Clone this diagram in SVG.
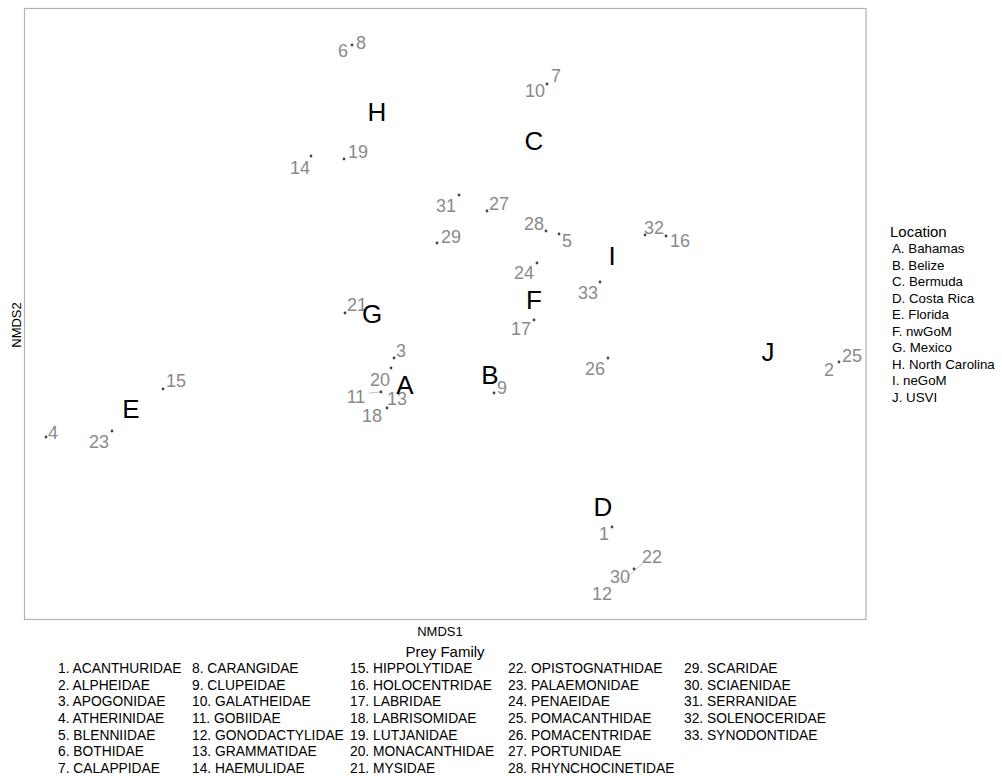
<svg xmlns="http://www.w3.org/2000/svg" width="1002" height="776" viewBox="0 0 1002 776">
<style>
text{font-family:"Liberation Sans",Arial,sans-serif}
.n{font-size:18px;fill:#8a8a8a;text-anchor:middle}
.l{font-size:26px;fill:#000;text-anchor:middle}
.d{fill:#444}
.lg{font-size:13.3px;fill:#000}
.pf{font-size:13.8px;fill:#000}
.tt{font-size:15px;fill:#000}
.ax{font-size:13px;fill:#000;text-anchor:middle}
</style>
<rect x="0" y="0" width="1002" height="776" fill="#fff"/>
<rect id="panel" x="24.5" y="8.5" width="841.5" height="611" fill="none" stroke="#b3b3b3" stroke-width="1.2"/>
<g id="connectors" stroke="#b0b0b0" stroke-width="0.8" fill="none">
<line x1="369" y1="393" x2="381" y2="392"/>
<line x1="621" y1="583" x2="645" y2="561"/>
</g>
<g id="points">
<circle class="d" cx="352" cy="45" r="1.4"/>
<circle class="d" cx="547" cy="84" r="1.4"/>
<circle class="d" cx="311" cy="156" r="1.4"/>
<circle class="d" cx="344" cy="159" r="1.4"/>
<circle class="d" cx="459" cy="195" r="1.4"/>
<circle class="d" cx="487" cy="211" r="1.4"/>
<circle class="d" cx="546" cy="231" r="1.4"/>
<circle class="d" cx="559" cy="234" r="1.4"/>
<circle class="d" cx="437" cy="243" r="1.4"/>
<circle class="d" cx="645" cy="235" r="1.4"/>
<circle class="d" cx="666" cy="236" r="1.4"/>
<circle class="d" cx="537" cy="263" r="1.4"/>
<circle class="d" cx="600" cy="282" r="1.4"/>
<circle class="d" cx="534" cy="320" r="1.4"/>
<circle class="d" cx="345" cy="313" r="1.4"/>
<circle class="d" cx="394" cy="358" r="1.4"/>
<circle class="d" cx="391" cy="368" r="1.4"/>
<circle class="d" cx="381" cy="392" r="1.4"/>
<circle class="d" cx="387" cy="408" r="1.4"/>
<circle class="d" cx="494" cy="393" r="1.4"/>
<circle class="d" cx="608" cy="358" r="1.4"/>
<circle class="d" cx="839" cy="362" r="1.4"/>
<circle class="d" cx="163" cy="389" r="1.4"/>
<circle class="d" cx="46" cy="437" r="1.4"/>
<circle class="d" cx="112" cy="431" r="1.4"/>
<circle class="d" cx="612" cy="527" r="1.4"/>
<circle class="d" cx="634" cy="569" r="1.4"/>
</g>
<g id="point-labels">
<text class="n" x="343" y="57">6</text>
<text class="n" x="361" y="49">8</text>
<text class="n" x="535" y="97">10</text>
<text class="n" x="556" y="82">7</text>
<text class="n" x="300" y="174">14</text>
<text class="n" x="358" y="158">19</text>
<text class="n" x="446" y="212">31</text>
<text class="n" x="499" y="210">27</text>
<text class="n" x="534" y="230">28</text>
<text class="n" x="567" y="247">5</text>
<text class="n" x="451" y="243">29</text>
<text class="n" x="654" y="234">32</text>
<text class="n" x="680" y="247">16</text>
<text class="n" x="524" y="279">24</text>
<text class="n" x="588" y="299">33</text>
<text class="n" x="521" y="335">17</text>
<text class="n" x="357" y="311">21</text>
<text class="n" x="401" y="357">3</text>
<text class="n" x="380" y="386">20</text>
<text class="n" x="356" y="403">11</text>
<text class="n" x="397" y="405">13</text>
<text class="n" x="372" y="422">18</text>
<text class="n" x="502" y="394">9</text>
<text class="n" x="595" y="375">26</text>
<text class="n" x="829" y="376">2</text>
<text class="n" x="852" y="362">25</text>
<text class="n" x="176" y="387">15</text>
<text class="n" x="53" y="439">4</text>
<text class="n" x="99" y="448">23</text>
<text class="n" x="604" y="540">1</text>
<text class="n" x="652" y="563">22</text>
<text class="n" x="620" y="583">30</text>
<text class="n" x="602" y="600">12</text>
</g>
<g id="location-labels">
<text class="l" x="377" y="121">H</text>
<text class="l" x="534" y="150">C</text>
<text class="l" x="612" y="265">I</text>
<text class="l" x="534" y="309">F</text>
<text class="l" x="372" y="323">G</text>
<text class="l" x="405" y="394">A</text>
<text class="l" x="490" y="384">B</text>
<text class="l" x="768" y="361">J</text>
<text class="l" x="131" y="418">E</text>
<text class="l" x="603" y="516">D</text>
</g>
<g id="axes">
<text class="ax" x="440" y="636">NMDS1</text>
<text class="ax" transform="translate(21,325) rotate(-90)">NMDS2</text>
</g>
<g id="location-legend">
<text class="tt" x="890" y="237">Location</text>
<text class="lg" x="892" y="253">A. Bahamas</text>
<text class="lg" x="892" y="269.5">B. Belize</text>
<text class="lg" x="892" y="286">C. Bermuda</text>
<text class="lg" x="892" y="302.5">D. Costa Rica</text>
<text class="lg" x="892" y="319">E. Florida</text>
<text class="lg" x="892" y="335.5">F. nwGoM</text>
<text class="lg" x="892" y="352">G. Mexico</text>
<text class="lg" x="892" y="368.5">H. North Carolina</text>
<text class="lg" x="892" y="385">I. neGoM</text>
<text class="lg" x="892" y="401.5">J. USVI</text>
</g>
<g id="prey-legend">
<text class="tt" x="445" y="657" text-anchor="middle">Prey Family</text>
<text class="pf" x="58" y="673">1. ACANTHURIDAE</text>
<text class="pf" x="58" y="689.7">2. ALPHEIDAE</text>
<text class="pf" x="58" y="706.3">3. APOGONIDAE</text>
<text class="pf" x="58" y="723">4. ATHERINIDAE</text>
<text class="pf" x="58" y="739.7">5. BLENNIIDAE</text>
<text class="pf" x="58" y="756.3">6. BOTHIDAE</text>
<text class="pf" x="58" y="773">7. CALAPPIDAE</text>
<text class="pf" x="192" y="673">8. CARANGIDAE</text>
<text class="pf" x="192" y="689.7">9. CLUPEIDAE</text>
<text class="pf" x="192" y="706.3">10. GALATHEIDAE</text>
<text class="pf" x="192" y="723">11. GOBIIDAE</text>
<text class="pf" x="192" y="739.7">12. GONODACTYLIDAE</text>
<text class="pf" x="192" y="756.3">13. GRAMMATIDAE</text>
<text class="pf" x="192" y="773">14. HAEMULIDAE</text>
<text class="pf" x="350" y="673">15. HIPPOLYTIDAE</text>
<text class="pf" x="350" y="689.7">16. HOLOCENTRIDAE</text>
<text class="pf" x="350" y="706.3">17. LABRIDAE</text>
<text class="pf" x="350" y="723">18. LABRISOMIDAE</text>
<text class="pf" x="350" y="739.7">19. LUTJANIDAE</text>
<text class="pf" x="350" y="756.3">20. MONACANTHIDAE</text>
<text class="pf" x="350" y="773">21. MYSIDAE</text>
<text class="pf" x="508" y="673">22. OPISTOGNATHIDAE</text>
<text class="pf" x="508" y="689.7">23. PALAEMONIDAE</text>
<text class="pf" x="508" y="706.3">24. PENAEIDAE</text>
<text class="pf" x="508" y="723">25. POMACANTHIDAE</text>
<text class="pf" x="508" y="739.7">26. POMACENTRIDAE</text>
<text class="pf" x="508" y="756.3">27. PORTUNIDAE</text>
<text class="pf" x="508" y="773">28. RHYNCHOCINETIDAE</text>
<text class="pf" x="684" y="673">29. SCARIDAE</text>
<text class="pf" x="684" y="689.7">30. SCIAENIDAE</text>
<text class="pf" x="684" y="706.3">31. SERRANIDAE</text>
<text class="pf" x="684" y="723">32. SOLENOCERIDAE</text>
<text class="pf" x="684" y="739.7">33. SYNODONTIDAE</text>
</g>
</svg>
